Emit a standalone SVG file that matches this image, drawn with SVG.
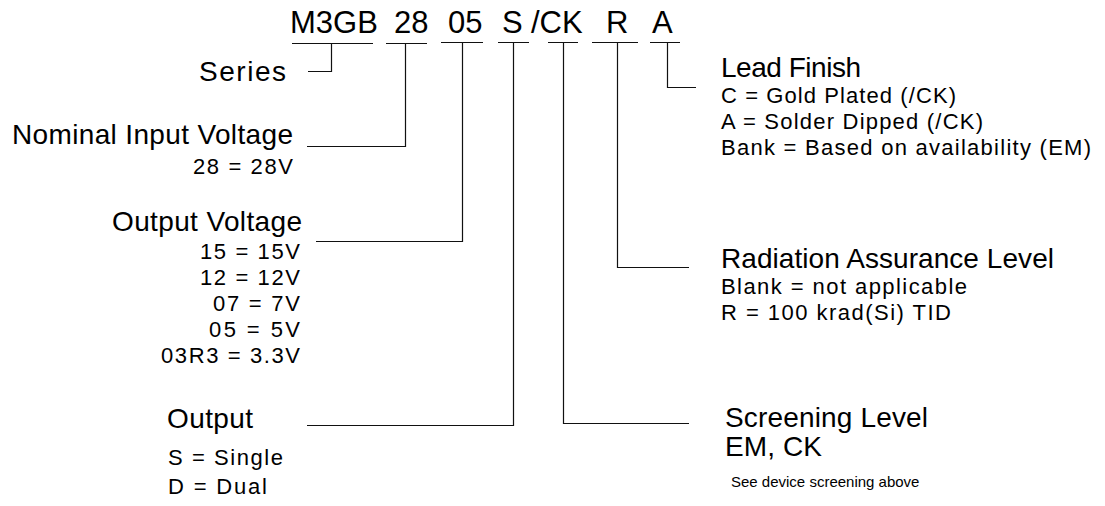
<svg xmlns="http://www.w3.org/2000/svg" width="1105" height="506" viewBox="0 0 1105 506">
<style>
text{font-family:"Liberation Sans",Arial,Helvetica,sans-serif;fill:#000}
.t{font-size:31px}
.h{font-size:28px}
.s{font-size:22px}
.n{font-size:15px}
.c{fill:none;stroke:#111;stroke-width:1.2}
</style>
<rect width="1105" height="506" fill="#fff"/>
<g id="part-number">
<text class="t" x="290" y="33">M3GB</text>
<text class="t" x="394" y="33">28</text>
<text class="t" x="448" y="33">05</text>
<text class="t" x="502" y="33">S</text>
<text class="t" x="531" y="33">/CK</text>
<text class="t" x="606" y="33">R</text>
<text class="t" x="652" y="33">A</text>
</g>
<g id="series">
<text class="h" x="199" y="81" textLength="87" lengthAdjust="spacing">Series</text>
</g>
<g id="nominal-input-voltage">
<text class="h" x="12" y="144" textLength="281" lengthAdjust="spacing">Nominal Input Voltage</text>
<text class="s" x="193" y="174" textLength="100" lengthAdjust="spacing">28 = 28V</text>
</g>
<g id="output-voltage">
<text class="h" x="112" y="231" textLength="190" lengthAdjust="spacing">Output Voltage</text>
<text class="s" x="200" y="259" textLength="100" lengthAdjust="spacing">15 = 15V</text>
<text class="s" x="200" y="285" textLength="100" lengthAdjust="spacing">12 = 12V</text>
<text class="s" x="213" y="311" textLength="87" lengthAdjust="spacing">07 = 7V</text>
<text class="s" x="209" y="337" textLength="91" lengthAdjust="spacing">05 = 5V</text>
<text class="s" x="161" y="363" textLength="139" lengthAdjust="spacing">03R3 = 3.3V</text>
</g>
<g id="output">
<text class="h" x="167" y="428" textLength="86" lengthAdjust="spacing">Output</text>
<text class="s" x="168" y="465" textLength="115" lengthAdjust="spacing">S = Single</text>
<text class="s" x="168" y="494" textLength="99" lengthAdjust="spacing">D = Dual</text>
</g>
<g id="lead-finish">
<text class="h" x="721" y="77" textLength="140" lengthAdjust="spacing">Lead Finish</text>
<text class="s" x="721" y="103" textLength="235" lengthAdjust="spacing">C = Gold Plated (/CK)</text>
<text class="s" x="721" y="129" textLength="262" lengthAdjust="spacing">A = Solder Dipped (/CK)</text>
<text class="s" x="721" y="155" textLength="370" lengthAdjust="spacing">Bank = Based on availability (EM)</text>
</g>
<g id="radiation-assurance-level">
<text class="h" x="721" y="268" textLength="333" lengthAdjust="spacing">Radiation Assurance Level</text>
<text class="s" x="721" y="294" textLength="246" lengthAdjust="spacing">Blank = not applicable</text>
<text class="s" x="721" y="320" textLength="230" lengthAdjust="spacing">R = 100 krad(Si) TID</text>
</g>
<g id="screening-level">
<text class="h" x="725" y="427" textLength="203" lengthAdjust="spacing">Screening Level</text>
<text class="h" x="725" y="456" textLength="97" lengthAdjust="spacing">EM, CK</text>
<text class="n" x="731" y="487">See device screening above</text>
</g>
<g id="connectors">
<path class="c" d="M292 43.5H373M331.5 43.5V71.5H308"/>
<path class="c" d="M386 43.5H427M405.5 43.5V146.5H307"/>
<path class="c" d="M441 42.5H483M462.5 42.5V241.5H316"/>
<path class="c" d="M498 42.5H529M513.5 42.5V425.5H307"/>
<path class="c" d="M548 42.5H578M563.5 42.5V423.5H689"/>
<path class="c" d="M592 42.5H638M617.5 42.5V267.5H689"/>
<path class="c" d="M650 42.5H680M667.5 42.5V87.5H696"/>
</g>
</svg>
